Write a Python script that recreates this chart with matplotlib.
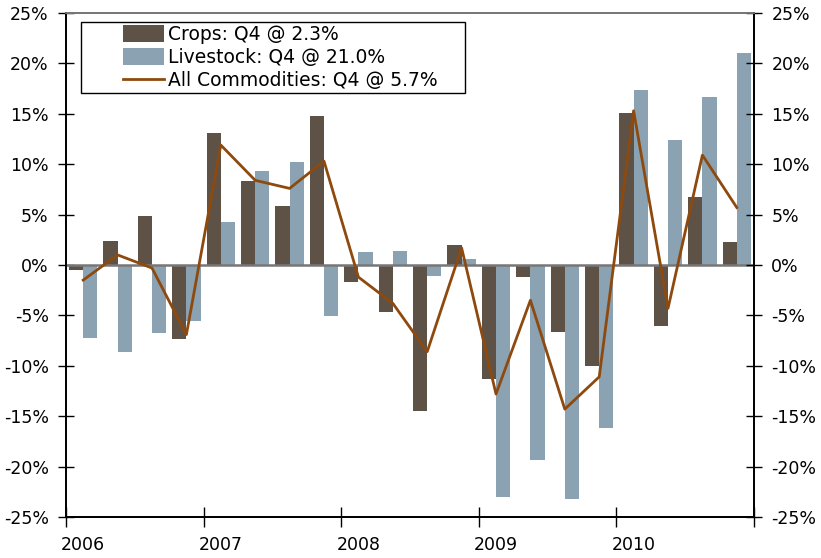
import numpy as np
import matplotlib
matplotlib.use("Agg")
import matplotlib.pyplot as plt
from matplotlib.patches import Rectangle
from matplotlib.ticker import FuncFormatter

years = ["2006", "2007", "2008", "2009", "2010"]
crops = [-0.5, 2.4, 4.9, -7.3,
         13.1, 8.3, 5.9, 14.8,
         -1.7, -4.7, -14.5, 2.0,
         -11.3, -1.2, -6.6, -10.0,
         15.1, -6.1, 6.7, 2.3]
livestock = [-7.2, -8.6, -6.7, -5.6,
             4.3, 9.3, 10.2, -5.1,
             1.3, 1.4, -1.1, 0.6,
             -23.0, -19.3, -23.2, -16.2,
             17.4, 12.4, 16.7, 21.0]
all_comm = [-1.5, 1.0, -0.3, -6.9,
            11.9, 8.4, 7.6, 10.3,
            -1.2, -3.8, -8.6, 1.7,
            -12.8, -3.5, -14.3, -11.1,
            15.3, -4.3, 10.9, 5.7]

c_crops = "#5e5246"
c_live = "#8aa2b2"
c_line = "#8e4a0e"

plt.rcParams["font.family"] = ["DejaVu Sans"]
plt.rcParams["font.size"] = 12.5

fig = plt.figure(figsize=(8.21, 5.58), dpi=100)
ax = fig.add_axes([66 / 821, 1 - 517 / 558, 688 / 821, 504 / 558])

n = len(crops)
x = np.arange(n) + 0.5
w = 0.41
b1 = ax.bar(x - w / 2, crops, w, color=c_crops, zorder=2)
b2 = ax.bar(x + w / 2, livestock, w, color=c_live, zorder=2)
l1, = ax.plot(x, all_comm, color=c_line, lw=2, zorder=4)
ax.axhline(0, color="#777777", lw=1.8, zorder=3)

ax.set_xlim(0, n)
ax.set_ylim(-25, 25)

# ticks at year boundaries, labels under first quarter
ax.set_xticks(np.arange(0, n + 1, 4))
ax.set_xticklabels([])
ax.set_xticks(np.arange(0, n, 4) + 0.5, minor=True)
ax.set_xticklabels(years, minor=True)
ax.tick_params(axis="x", which="major", direction="inout", length=14, width=1, color="black")
ax.tick_params(axis="x", which="minor", length=0, pad=14, labelsize=12.5)

yt = np.arange(-25, 26, 5)
fmt = FuncFormatter(lambda v, p: f"{int(v)}%")
ax.set_yticks(yt)
ax.yaxis.set_major_formatter(fmt)
ax.tick_params(axis="y", direction="inout", length=11, width=1, pad=7)

ax2 = ax.twinx()
ax2.set_ylim(-25, 25)
ax2.set_yticks(yt)
ax2.yaxis.set_major_formatter(fmt)
ax2.tick_params(axis="y", direction="inout", length=11, width=1, pad=7)

for a in (ax, ax2):
    a.spines["left"].set_color("black")
    a.spines["right"].set_color("black")
    a.spines["bottom"].set_color("black")
    a.spines["top"].set_color("#777777")
    for s in a.spines.values():
        s.set_linewidth(1.3)

# legend box drawn separately, entries inside it
box = Rectangle((15 / 688, 1 - 80 / 504), 384 / 688, 71 / 504, transform=ax.transAxes,
                facecolor="white", edgecolor="black", lw=1.0, zorder=9)
ax.add_patch(box)
leg = ax.legend([b1, b2, l1],
                ["Crops: Q4 @ 2.3%", "Livestock: Q4 @ 21.0%", "All Commodities: Q4 @ 5.7%"],
                loc="upper left", bbox_to_anchor=(57 / 688, 1 - 12 / 504),
                frameon=False, handlelength=2.2, handleheight=1.0, handletextpad=0.2,
                borderpad=0, labelspacing=0.22, borderaxespad=0, fontsize=13.5)
leg.set_zorder(10)

fig.savefig("out.png", dpi=100)
